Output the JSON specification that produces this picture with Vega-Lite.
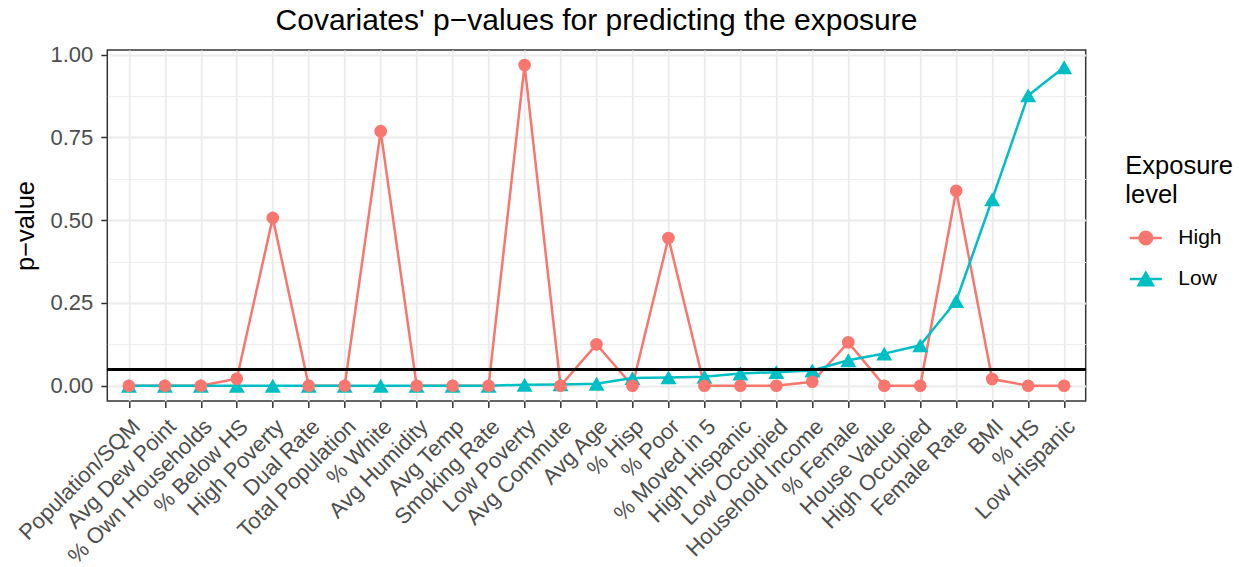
{
  "$schema": "https://vega.github.io/schema/vega-lite/v6.json",
  "autosize": {"type": "none"},
  "width": 978.4,
  "height": 351,
  "padding": {"left": 107.3, "top": 50, "right": 153.3, "bottom": 166},
  "background": "white",
  "title": {"text": "Covariates' p−values for predicting the exposure", "fontSize": 30, "font": "Liberation Sans", "fontWeight": "normal", "color": "black", "anchor": "middle", "offset": 8},
  "config": {
    "font": "Liberation Sans",
    "view": {"stroke": "#333333", "strokeWidth": 1.5},
    "axis": {"domain": false, "gridColor": "#EBEBEB", "tickColor": "#333333", "tickSize": 6.5, "tickWidth": 1.5, "labelColor": "#4D4D4D", "labelFontSize": 22, "titleFontSize": 25.5, "titleFontWeight": "normal", "titleColor": "black", "labelFont": "Liberation Sans", "titleFont": "Liberation Sans"}
  },
  "data": {"values": [
    {"group": "High", "covariate": "Population/SQM", "p": 0.0},
    {"group": "High", "covariate": "Avg Dew Point", "p": 0.0},
    {"group": "High", "covariate": "% Own Households", "p": 0.0},
    {"group": "High", "covariate": "% Below HS", "p": 0.021},
    {"group": "High", "covariate": "High Poverty", "p": 0.507},
    {"group": "High", "covariate": "Dual Rate", "p": 0.0},
    {"group": "High", "covariate": "Total Population", "p": 0.0},
    {"group": "High", "covariate": "% White", "p": 0.769},
    {"group": "High", "covariate": "Avg Humidity", "p": 0.0},
    {"group": "High", "covariate": "Avg Temp", "p": 0.0},
    {"group": "High", "covariate": "Smoking Rate", "p": 0.0},
    {"group": "High", "covariate": "Low Poverty", "p": 0.969},
    {"group": "High", "covariate": "Avg Commute", "p": 0.0},
    {"group": "High", "covariate": "Avg Age", "p": 0.125},
    {"group": "High", "covariate": "% Hisp", "p": 0.0},
    {"group": "High", "covariate": "% Poor", "p": 0.446},
    {"group": "High", "covariate": "% Moved in 5", "p": 0.0},
    {"group": "High", "covariate": "High Hispanic", "p": 0.0},
    {"group": "High", "covariate": "Low Occupied", "p": 0.0},
    {"group": "High", "covariate": "Household Income", "p": 0.012},
    {"group": "High", "covariate": "% Female", "p": 0.131},
    {"group": "High", "covariate": "House Value", "p": 0.0},
    {"group": "High", "covariate": "High Occupied", "p": 0.0},
    {"group": "High", "covariate": "Female Rate", "p": 0.589},
    {"group": "High", "covariate": "BMI", "p": 0.02},
    {"group": "High", "covariate": "% HS", "p": 0.0},
    {"group": "High", "covariate": "Low Hispanic", "p": 0.0},
    {"group": "Low", "covariate": "Population/SQM", "p": 0.0},
    {"group": "Low", "covariate": "Avg Dew Point", "p": 0.0},
    {"group": "Low", "covariate": "% Own Households", "p": 0.0},
    {"group": "Low", "covariate": "% Below HS", "p": 0.0},
    {"group": "Low", "covariate": "High Poverty", "p": 0.0},
    {"group": "Low", "covariate": "Dual Rate", "p": 0.0},
    {"group": "Low", "covariate": "Total Population", "p": 0.0},
    {"group": "Low", "covariate": "% White", "p": 0.0},
    {"group": "Low", "covariate": "Avg Humidity", "p": 0.0},
    {"group": "Low", "covariate": "Avg Temp", "p": 0.0},
    {"group": "Low", "covariate": "Smoking Rate", "p": 0.0},
    {"group": "Low", "covariate": "Low Poverty", "p": 0.003},
    {"group": "Low", "covariate": "Avg Commute", "p": 0.004},
    {"group": "Low", "covariate": "Avg Age", "p": 0.006},
    {"group": "Low", "covariate": "% Hisp", "p": 0.023},
    {"group": "Low", "covariate": "% Poor", "p": 0.025},
    {"group": "Low", "covariate": "% Moved in 5", "p": 0.027},
    {"group": "Low", "covariate": "High Hispanic", "p": 0.037},
    {"group": "Low", "covariate": "Low Occupied", "p": 0.041},
    {"group": "Low", "covariate": "Household Income", "p": 0.046},
    {"group": "Low", "covariate": "% Female", "p": 0.077},
    {"group": "Low", "covariate": "House Value", "p": 0.097},
    {"group": "Low", "covariate": "High Occupied", "p": 0.122},
    {"group": "Low", "covariate": "Female Rate", "p": 0.256},
    {"group": "Low", "covariate": "BMI", "p": 0.563},
    {"group": "Low", "covariate": "% HS", "p": 0.877},
    {"group": "Low", "covariate": "Low Hispanic", "p": 0.962}
  ]},
  "layer": [
    {
      "transform": [{"filter": "datum.group === 'High'"}],
      "mark": {"type": "line", "strokeWidth": 2.5, "color": "#F8766D"},
      "encoding": {
        "x": {"field": "covariate", "type": "nominal", "sort": null, "scale": {"type": "point", "padding": 0.6},
          "axis": {"title": null, "labelAngle": -45, "labelAlign": "right", "labelBaseline": "top", "labelPadding": 8, "grid": true, "gridWidth": 1.8, "labelOverlap": false, "labelLimit": 400}},
        "y": {"field": "p", "type": "quantitative", "scale": {"domain": [-0.0462, 1.0142], "nice": false, "zero": false},
          "axis": {"title": "p−value", "values": [0, 0.125, 0.25, 0.375, 0.5, 0.625, 0.75, 0.875, 1],
            "labelExpr": "(datum.value*8) % 2 == 1 ? '' : format(datum.value, '.2f')",
            "gridWidth": {"condition": {"test": "(datum.value*8) % 2 == 1", "value": 0.9}, "value": 1.8},
            "tickSize": {"condition": {"test": "(datum.value*8) % 2 == 1", "value": 0}, "value": 6.5},
            "labelOverlap": false, "labelPadding": 8, "titlePadding": 11}},
        "order": {"value": null}
      }
    },
    {
      "transform": [{"filter": "datum.group === 'Low'"}],
      "mark": {"type": "line", "strokeWidth": 2.5, "color": "#00BFC4"},
      "encoding": {
        "x": {"field": "covariate", "type": "nominal", "sort": null},
        "y": {"field": "p", "type": "quantitative"},
        "order": {"value": null}
      }
    },
    {
      "transform": [{"filter": "datum.group === 'Low'"}],
      "mark": {"type": "point", "shape": "triangle-up", "filled": true, "size": 256, "opacity": 1, "color": "#00BFC4"},
      "encoding": {
        "x": {"field": "covariate", "type": "nominal", "sort": null},
        "y": {"field": "p", "type": "quantitative"}
      }
    },
    {
      "transform": [{"filter": "datum.group === 'High'"}],
      "mark": {"type": "point", "shape": "circle", "filled": true, "size": 160, "opacity": 1, "color": "#F8766D"},
      "encoding": {
        "x": {"field": "covariate", "type": "nominal", "sort": null},
        "y": {"field": "p", "type": "quantitative"}
      }
    },
    {
      "mark": {"type": "rule", "color": "black", "strokeWidth": 2.2},
      "encoding": {"y": {"datum": 0.05}}
    },
    {
      "mark": {"type": "point", "filled": true, "size": 0, "strokeWidth": 2.5},
      "encoding": {
        "x": {"field": "covariate", "type": "nominal", "sort": null},
        "y": {"field": "p", "type": "quantitative"},
        "fill": {"field": "group", "type": "nominal", "scale": {"domain": ["High", "Low"], "range": ["#F8766D", "#00BFC4"]}},
        "stroke": {"field": "group", "type": "nominal", "scale": {"domain": ["High", "Low"], "range": ["#F8766D", "#00BFC4"]}},
        "shape": {"field": "group", "type": "nominal",
          "scale": {"domain": ["High", "Low"], "range": ["M-1,0H1M0.39,0A0.39,0.39,0,1,1,-0.39,0A0.39,0.39,0,1,1,0.39,0Z", "M-1,0H1M0,-0.39L0.45,0.39L-0.45,0.39Z"]},
          "legend": {"title": ["Exposure", "\u00a0level"], "titleFontSize": 25.5, "titleFontWeight": "normal", "titleColor": "black", "titleLineHeight": 29, "titlePadding": 12,
            "labelFontSize": 21, "labelColor": "black", "labelOffset": 15, "symbolSize": 1024, "symbolStrokeWidth": 2.5, "symbolOpacity": 1, "rowPadding": 12,
            "orient": "none", "legendX": 1018, "legendY": 104, "symbolOffset": 3}
        }
      }
    }
  ]
}
